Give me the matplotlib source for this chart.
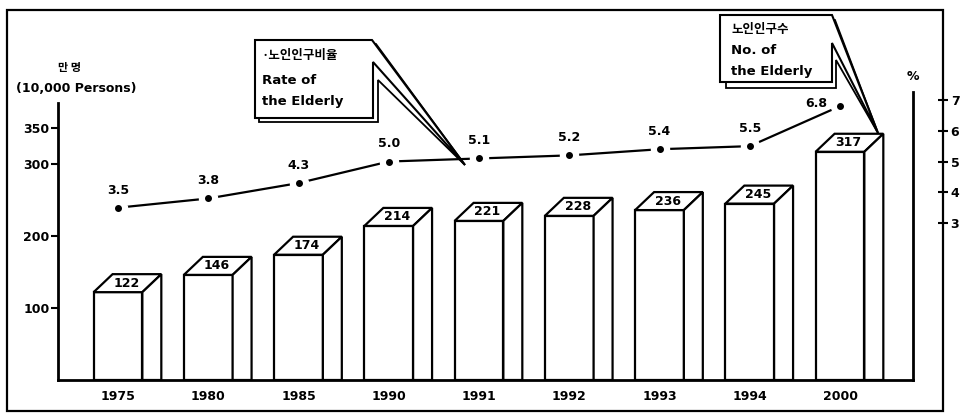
import matplotlib.pyplot as plt
from matplotlib.patches import Polygon, Rectangle
import numpy as np

plt.rcParams['font.family'] = ['DejaVu Sans', 'Noto Sans CJK KR']

years = ['1975', '1980', '1985', '1990', '1991', '1992', '1993', '1994', '2000']
elderly = [122, 146, 174, 214, 221, 228, 236, 245, 317]   # 10,000 persons
rate = [3.5, 3.8, 4.3, 5.0, 5.1, 5.2, 5.4, 5.5, 6.8]      # %

W, H = 963, 419
fig = plt.figure(figsize=(W / 100, H / 100), dpi=100)


def rect(x0, y0, x1, y1):
    # pixel box -> figure fraction
    return [x0 / W, 1 - y1 / H, (x1 - x0) / W, (y1 - y0) / H]


ppu, x_first = 90.25, 118  # px per category, px of first bar center
ax = fig.add_axes(rect(58, 92, 913, 380))
ax.set_xlim((58 - x_first) / ppu, (913 - x_first) / ppu)
ax.set_ylim(0, 400)

ax2 = fig.add_axes(rect(58, 92, 943, 380))
ax2.set_xlim((58 - x_first) / ppu, (943 - x_first) / ppu)
ax2.set_ylim(-2.1, 7.26)
ax2.patch.set_alpha(0)

lw = 1.6
w, dx, dy = 0.54, 0.21, 25
x = np.arange(len(years))
ax.bar(x, elderly, width=w, color='white', edgecolor='black', linewidth=lw, zorder=3)
for i, h in enumerate(elderly):
    x0, x1 = i - w / 2, i + w / 2
    top = [(x0, h), (x0 + dx, h + dy), (x1 + dx, h + dy), (x1, h)]
    side = [(x1, 0), (x1, h), (x1 + dx, h + dy), (x1 + dx, 0)]
    for pts in (top, side):
        ax.add_patch(Polygon(pts, closed=True, facecolor='white', edgecolor='black',
                             linewidth=lw, joinstyle='miter', zorder=3))
    ax.text(i + dx / 2 - 0.01, h + dy / 2, str(h), ha='center', va='center',
            fontsize=9, fontweight='bold', zorder=4)

for s in ['top']:
    ax.spines[s].set_visible(False)
ax.spines['left'].set_bounds(0, 385)
for s in ['left', 'bottom', 'right']:
    ax.spines[s].set_linewidth(2)
ax.set_xticks(x)
ax.set_xticklabels(years, fontsize=9, fontweight='bold')
ax.tick_params(axis='x', length=0, pad=7)
ax.set_yticks([100, 200, 300, 350])
ax.tick_params(axis='y', length=5, width=1.5, pad=1, labelsize=9)
for t in ax.get_yticklabels():
    t.set_fontweight('bold')

# rate line
ax2.plot(x, rate, color='black', linewidth=1.6, zorder=5)
ax2.plot(x, rate, 'o', color='white', markersize=13, zorder=6)
ax2.plot(x, rate, 'o', color='black', markersize=4, zorder=7)
for i, r in enumerate(rate):
    if i == len(rate) - 1:
        ax2.annotate(f'{r:.1f}', (i, r), xytext=(-9, 2), textcoords='offset points',
                     ha='right', va='center', fontsize=9, fontweight='bold', zorder=8)
    else:
        ax2.annotate(f'{r:.1f}', (i, r), xytext=(0, 8), textcoords='offset points',
                     ha='center', va='bottom', fontsize=9, fontweight='bold', zorder=8)

for s in ax2.spines.values():
    s.set_visible(False)
ax2.set_xticks([])
ax2.yaxis.tick_right()
ax2.set_yticks([3, 4, 5, 6, 7])
ax2.tick_params(axis='y', direction='inout', length=7, width=1.5, pad=2, labelsize=9)
for t in ax2.get_yticklabels():
    t.set_fontweight('bold')

# overlay for frame, unit labels and callouts (pixel coordinates)
ov = fig.add_axes([0, 0, 1, 1])
ov.set_xlim(0, W)
ov.set_ylim(H, 0)
ov.axis('off')
ov.patch.set_alpha(0)
ov.add_patch(Rectangle((7, 10), 936, 401, fill=False, linewidth=1.6))

kr = ['Noto Sans CJK KR', 'DejaVu Sans']
ov.text(70, 67, '만 명', ha='center', va='center', fontsize=8, fontweight='bold', family=kr)
ov.text(76, 88, '(10,000 Persons)', ha='center', va='center', fontsize=9, fontweight='bold')
ov.text(913, 76, '%', ha='center', va='center', fontsize=9, fontweight='bold')

# callout: rate of the elderly
ov.add_patch(Polygon([(259, 44), (376, 44), (465, 165), (378, 80), (378, 122), (259, 122)],
                     closed=True, facecolor='white', edgecolor='black', linewidth=1.3))
ov.add_patch(Polygon([(255, 40), (372, 40), (465, 165), (373, 62), (373, 118), (255, 118)],
                     closed=True, facecolor='white', edgecolor='black', linewidth=1.5))
ov.text(262, 56, '·노인인구비율', ha='left', va='center', fontsize=9, fontweight='bold', family=kr)
ov.text(262, 80, 'Rate of', ha='left', va='center', fontsize=9.5, fontweight='bold')
ov.text(262, 101, 'the Elderly', ha='left', va='center', fontsize=9.5, fontweight='bold')

# callout: number of the elderly
ov.add_patch(Polygon([(726, 20), (835, 20), (878, 133), (836, 60), (836, 88), (726, 88)],
                     closed=True, facecolor='white', edgecolor='black', linewidth=1.3))
ov.add_patch(Polygon([(720, 15), (832, 15), (878, 133), (832, 43), (832, 82), (720, 82)],
                     closed=True, facecolor='white', edgecolor='black', linewidth=1.5))
ov.text(731, 29, '노인인구수', ha='left', va='center', fontsize=9, fontweight='bold', family=kr)
ov.text(731, 51, 'No. of', ha='left', va='center', fontsize=9.5, fontweight='bold')
ov.text(731, 72, 'the Elderly', ha='left', va='center', fontsize=9.5, fontweight='bold')

fig.savefig('out.png', dpi=100)
